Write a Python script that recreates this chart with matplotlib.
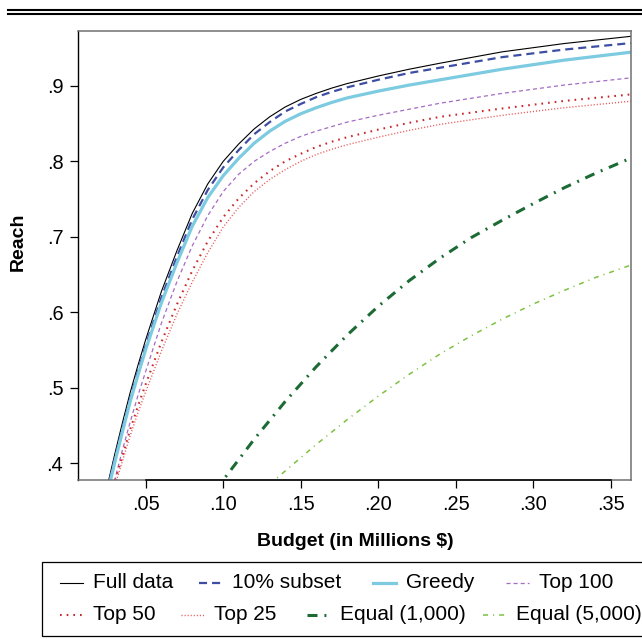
import matplotlib
matplotlib.use("Agg")
import matplotlib.pyplot as plt
from matplotlib.lines import Line2D
from matplotlib.patches import Rectangle

plt.rcParams['font.family'] = ['Liberation Sans', 'DejaVu Sans']
plt.rcParams['lines.scale_dashes'] = False

# budget grid (millions $) shared by the first six series
budget = [0.025, 0.03, 0.035, 0.04, 0.045, 0.05, 0.06, 0.07, 0.08, 0.09, 0.10,
          0.11, 0.12, 0.13, 0.14, 0.15, 0.16, 0.17, 0.18, 0.20, 0.22, 0.24, 0.28,
          0.32, 0.365]
full_data = [0.368, 0.412, 0.454, 0.494, 0.530, 0.564, 0.627, 0.681, 0.731, 0.770, 0.800,
             0.823, 0.843, 0.859, 0.872, 0.882, 0.890, 0.897, 0.903, 0.913, 0.922, 0.930,
             0.945, 0.956, 0.966]
subset10 = [0.363, 0.406, 0.447, 0.486, 0.522, 0.556, 0.619, 0.673, 0.723, 0.762, 0.792,
            0.815, 0.836, 0.852, 0.866, 0.876, 0.885, 0.892, 0.898, 0.908, 0.917, 0.924,
            0.938, 0.948, 0.957]
greedy = [0.358, 0.401, 0.442, 0.482, 0.517, 0.551, 0.612, 0.665, 0.714, 0.752, 0.781,
          0.804, 0.824, 0.840, 0.853, 0.863, 0.871, 0.878, 0.884, 0.893, 0.901, 0.908,
          0.922, 0.934, 0.945]
top100 = [0.340, 0.378, 0.418, 0.455, 0.490, 0.522, 0.585, 0.640, 0.688, 0.728, 0.760,
          0.783, 0.800, 0.813, 0.824, 0.833, 0.840, 0.846, 0.852, 0.861, 0.869, 0.877,
          0.890, 0.901, 0.911]
top50 = [0.335, 0.375, 0.410, 0.445, 0.476, 0.505, 0.560, 0.610, 0.655, 0.694, 0.726,
         0.751, 0.771, 0.787, 0.800, 0.810, 0.819, 0.826, 0.832, 0.842, 0.851, 0.859,
         0.870, 0.880, 0.889]
top25 = [0.330, 0.370, 0.403, 0.437, 0.467, 0.495, 0.548, 0.597, 0.640, 0.679, 0.713,
         0.739, 0.760, 0.776, 0.789, 0.800, 0.809, 0.816, 0.822, 0.832, 0.841, 0.849,
         0.861, 0.871, 0.880]

budget_eq1000 = [0.095, 0.10, 0.12, 0.14, 0.16, 0.18, 0.20, 0.22, 0.24, 0.26,
                 0.28, 0.30, 0.32, 0.34, 0.365]
equal1000 = [0.364, 0.378, 0.432, 0.482, 0.528, 0.570, 0.608, 0.642, 0.672, 0.699,
             0.722, 0.744, 0.765, 0.784, 0.806]
budget_eq5000 = [0.13, 0.14, 0.16, 0.18, 0.20, 0.22, 0.24, 0.26, 0.28, 0.30,
                 0.32, 0.34, 0.365]
equal5000 = [0.372, 0.390, 0.425, 0.458, 0.489, 0.518, 0.545, 0.569, 0.591, 0.611,
             0.629, 0.646, 0.664]

xticks = [0.05, 0.10, 0.15, 0.20, 0.25, 0.30, 0.35]
xticklabels = ['.05', '.10', '.15', '.20', '.25', '.30', '.35']
yticks = [0.4, 0.5, 0.6, 0.7, 0.8, 0.9]
yticklabels = ['.4', '.5', '.6', '.7', '.8', '.9']

series = [
    ('Full data', budget, full_data, dict(color='black', lw=0.8, ls='-')),
    ('10% subset', budget, subset10, dict(color='#3d4ea3', lw=1.6, ls=(0, (5.8, 3.6)))),
    ('Greedy', budget, greedy, dict(color='#7ccbe0', lw=2.3, ls='-')),
    ('Top 100', budget, top100, dict(color='#a46cc4', lw=0.9, ls=(0, (2.9, 2.2)))),
    ('Top 50', budget, top50, dict(color='#c8282a', lw=1.5, ls=(0, (1.2, 3.6)))),
    ('Top 25', budget, top25, dict(color='#e85a5a', lw=1.0, ls=(0, (0.8, 1.4)))),
    ('Equal (1,000)', budget_eq1000, equal1000,
     dict(color='#1c6b35', lw=2.2, ls=(0, (7.2, 5.0, 1.4, 5.0)))),
    ('Equal (5,000)', budget_eq5000, equal5000,
     dict(color='#7cc13f', lw=1.1, ls=(0, (3.6, 3.6, 0.8, 3.6)))),
]

W, H = 642, 639
fig = plt.figure(figsize=(W / 100, H / 100), dpi=100)
ax = fig.add_axes([78.3 / W, 1 - 480 / H, (630.7 - 78.3) / W, (480 - 30.7) / H])

for label, xs, ys, style in series:
    ax.plot(xs, ys, label=label, **style)

ax.set_xlim(0.0065, 0.3629)
ax.set_ylim(0.378, 0.973)
ax.set_xticks(xticks)
ax.set_xticklabels(xticklabels)
ax.set_yticks(yticks)
ax.set_yticklabels(yticklabels)
ax.tick_params(axis='both', direction='out', length=5.8, width=0.9, pad=5,
               labelsize=14.4, color='black')

for s in ['top', 'right', 'bottom']:
    ax.spines[s].set_color('#707070')
    ax.spines[s].set_linewidth(1.1)
ax.spines['left'].set_color('black')
ax.spines['left'].set_linewidth(1.0)
# axis line only across the tick range
ax.plot([0.05, 0.35], [0, 0], color='black', lw=1.1,
        transform=ax.get_xaxis_transform(), clip_on=False, zorder=5)


def px(x, y):
    return x / W, 1 - y / H


fig.text(*px(355, 542), 'Budget (in Millions $)', ha='center', va='center',
         fontsize=14, fontweight='bold')
fig.text(*px(18.5, 242), 'Reach', ha='center', va='center', rotation=90,
         fontsize=14, fontweight='bold')

# double rule at the top
for yy in [10, 13.9]:
    fig.add_artist(Line2D([8 / W, 1], [1 - yy / H] * 2, color='black', lw=1.5,
                          transform=fig.transFigure))

# legend box drawn by hand to match column placement
x0, y0 = px(41.7, 636)
x1, y1 = px(646, 562.3)
fig.add_artist(Rectangle((x0, y0), x1 - x0, y1 - y0, fill=False, ec='black',
                         lw=0.9, transform=fig.transFigure))
text_x = [93, 232, 406, 539, 93, 214, 340, 516]
row_y = [583, 583, 583, 583, 615, 615, 615, 615]
for (label, xs, ys, style), tx, ty in zip(series, text_x, row_y):
    hx0, hy = px(tx - 33, ty)
    hx1, _ = px(tx - 10, ty)
    fig.add_artist(Line2D([hx0, hx1], [hy, hy], transform=fig.transFigure, **style))
    fig.text(*px(tx, ty), label, ha='left', va='center', fontsize=15)

fig.savefig('out.png', dpi=100)
